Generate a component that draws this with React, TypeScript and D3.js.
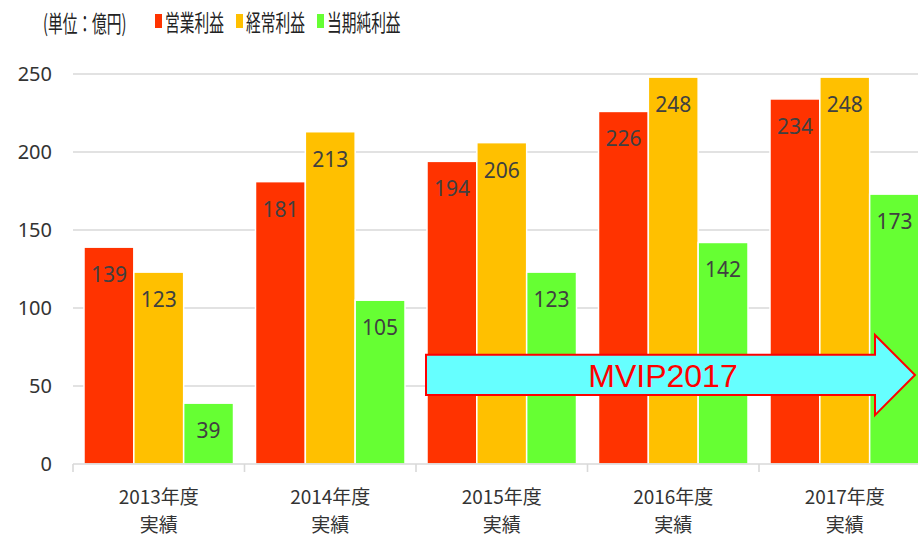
import React, { useEffect, useRef } from 'react';
import * as d3 from 'd3';

const years = ['2013年度', '2014年度', '2015年度', '2016年度', '2017年度'];
const seriesNames = ['営業利益', '経常利益', '当期純利益'];
const seriesColors = ['#ff3300', '#ffc000', '#66ff33'];
const operating = [139, 181, 194, 226, 234];
const ordinary = [123, 213, 206, 248, 248];
const netIncome = [39, 105, 123, 142, 173];
const yTicks = [0, 50, 100, 150, 200, 250];

const App = () => {
  const ref = useRef<SVGSVGElement>(null);

  useEffect(() => {
    const svg = d3.select(ref.current);
    svg.selectAll('*').remove();

    const width = 918;
    const height = 539;
    const left = 73;
    const catWidth = 171.5;

    svg.attr('width', width).attr('height', height);

    const values = [operating, ordinary, netIncome];

    // Scales
    const x0 = d3.scaleBand().domain(years).range([left, left + catWidth * years.length]).padding(0);
    const x1 = d3.scaleBand().domain(seriesNames).range([11, catWidth - 11]).padding(0);
    const y = d3.scaleLinear().domain([0, 250]).range([464, 74]);

    // Grid lines
    svg.append('g')
      .selectAll('line')
      .data(yTicks.filter(d => d > 0))
      .enter()
      .append('line')
      .attr('x1', left)
      .attr('x2', width)
      .attr('y1', d => y(d))
      .attr('y2', d => y(d))
      .attr('stroke', '#d9d9d9')
      .attr('stroke-width', 1.6);

    // Y labels
    svg.append('g')
      .selectAll('text')
      .data(yTicks)
      .enter()
      .append('text')
      .attr('x', 52)
      .attr('y', d => y(d) + 7)
      .attr('text-anchor', 'end')
      .attr('font-family', 'Noto Sans')
      .attr('font-size', 20)
      .attr('fill', '#333')
      .text(d => d);

    // Bars
    const groups = svg.append('g')
      .selectAll('g')
      .data(years)
      .enter()
      .append('g')
      .attr('transform', d => `translate(${x0(d)},0)`);

    groups.each(function (year, i) {
      const g = d3.select(this);
      seriesNames.forEach((name, s) => {
        const v = values[s][i];
        g.append('rect')
          .attr('x', x1(name)!)
          .attr('y', y(v))
          .attr('width', x1.bandwidth())
          .attr('height', y(0) - y(v))
          .attr('fill', seriesColors[s])
          .attr('stroke', '#fff')
          .attr('stroke-width', 1.5);
        g.append('text')
          .attr('x', x1(name)! + x1.bandwidth() / 2)
          .attr('y', y(v) + 35)
          .attr('text-anchor', 'middle')
          .attr('font-family', 'Noto Sans')
          .attr('font-size', 21)
          .attr('fill', '#404040')
          .text(v);
      });
    });

    // X axis line and ticks
    svg.append('line')
      .attr('x1', left)
      .attr('x2', width)
      .attr('y1', y(0))
      .attr('y2', y(0))
      .attr('stroke', '#d9d9d9')
      .attr('stroke-width', 1.6);

    const boundaries = years.map(d => x0(d)!).concat([left + catWidth * years.length]);
    svg.append('g')
      .selectAll('line')
      .data(boundaries)
      .enter()
      .append('line')
      .attr('x1', d => d)
      .attr('x2', d => d)
      .attr('y1', y(0))
      .attr('y2', y(0) + 8)
      .attr('stroke', '#d9d9d9')
      .attr('stroke-width', 1.6);

    // X labels
    const xl = svg.append('g')
      .selectAll('g')
      .data(years)
      .enter()
      .append('g')
      .attr('transform', d => `translate(${x0(d)! + catWidth / 2},0)`);
    xl.append('text')
      .attr('y', 504)
      .attr('text-anchor', 'middle')
      .attr('font-family', 'Noto Sans CJK JP')
      .attr('font-size', 19)
      .attr('fill', '#333')
      .text(d => d);
    xl.append('text')
      .attr('y', 532)
      .attr('text-anchor', 'middle')
      .attr('font-family', 'Noto Sans CJK JP')
      .attr('font-size', 19)
      .attr('fill', '#333')
      .text('実績');

    // MVIP2017 arrow annotation
    const ax0 = x0('2015年度')! + 10;
    const axBody = x0('2017年度')! + 116;
    const axTip = x0('2017年度')! + 156;
    const arrow = d3.path();
    arrow.moveTo(ax0, y(70));
    arrow.lineTo(axBody, y(70));
    arrow.lineTo(axBody, y(82.7));
    arrow.lineTo(axTip, y(57));
    arrow.lineTo(axBody, y(31.3));
    arrow.lineTo(axBody, y(44.2));
    arrow.lineTo(ax0, y(44.2));
    arrow.closePath();
    svg.append('path')
      .attr('d', arrow.toString())
      .attr('fill', '#66ffff')
      .attr('stroke', '#ff0000')
      .attr('stroke-width', 2);
    svg.append('text')
      .attr('x', 663)
      .attr('y', y(57) + 12)
      .attr('text-anchor', 'middle')
      .attr('font-family', 'Liberation Sans')
      .attr('font-size', 32)
      .attr('fill', '#ff0000')
      .text('MVIP2017');

    // Unit label (horizontally condensed like the source)
    const sx = 0.64;
    svg.append('text')
      .attr('transform', `translate(43,32) scale(${sx},1)`)
      .attr('font-family', 'Noto Sans CJK JP')
      .attr('font-size', 23)
      .attr('fill', '#222')
      .text('(単位：億円)');

    // Legend
    const legendX = [155, 236, 317];
    seriesNames.forEach((name, s) => {
      svg.append('rect')
        .attr('x', legendX[s])
        .attr('y', 14)
        .attr('width', 7)
        .attr('height', 14)
        .attr('fill', seriesColors[s]);
      svg.append('text')
        .attr('transform', `translate(${legendX[s] + 10},31) scale(${sx},1)`)
        .attr('font-family', 'Noto Sans CJK JP')
        .attr('font-size', 23)
        .attr('fill', '#222')
        .text(name);
    });
  }, []);

  return (
    <svg ref={ref} style={{ position: 'absolute', left: 0, top: 0, display: 'block', background: '#fff' }} />
  );
};

export default App;
